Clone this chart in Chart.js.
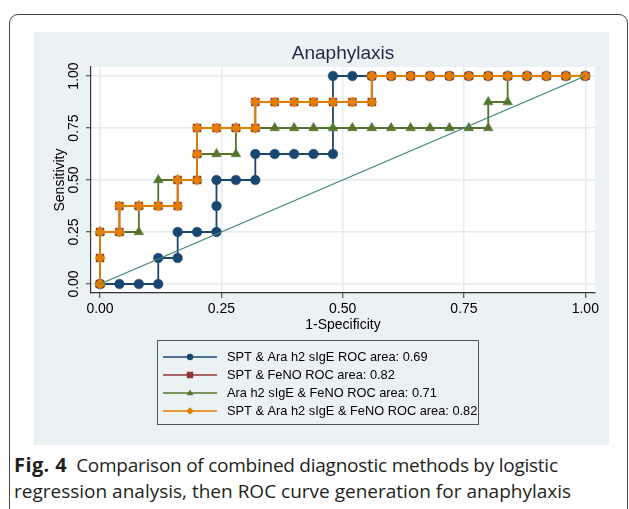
<!DOCTYPE html>
<html>
<head>
<meta charset="utf-8">
<script src="https://cdn.jsdelivr.net/npm/chart.js@4/dist/chart.umd.min.js"></script>
<style>
  html, body { margin: 0; padding: 0; background: #fff; }
  body { width: 629px; height: 509px; position: relative; overflow: hidden; }
  #frame { position: absolute; left: 9px; top: 14px; width: 619px; height: 520px;
           border: 1px solid #444; border-radius: 9px; box-sizing: border-box; }
  #panel { position: absolute; left: 34px; top: 32px; width: 575px; height: 413px; background: #eaf2f3; }
  #caption { position: absolute; left: 14px; top: 452px; width: 612px; white-space: nowrap;
             font-family: "Open Sans", sans-serif; font-size: 19px; line-height: 26px; color: #231f20; }
  #caption b { font-weight: 700; font-size: 20px; letter-spacing: 0.4px; margin-right: 9px; }
  #l1 { letter-spacing: -0.25px; }
</style>
</head>
<body>
<div id="frame"></div>
<div id="panel"><canvas id="graph"></canvas></div>
<div id="caption"><b>Fig. 4</b><span id="l1">Comparison of combined diagnostic methods by logistic</span><br>regression analysis, then ROC curve generation for anaphylaxis</div>
<script>
// axis ticks
const tickVals = [0, 0.25, 0.5, 0.75, 1];
const tickLabels = ["0.00", "0.25", "0.50", "0.75", "1.00"];

// SPT & Ara h2 sIgE
const spAraX = [0, 0.04, 0.08, 0.12, 0.12, 0.16, 0.16, 0.20, 0.24, 0.24, 0.24, 0.28, 0.32, 0.32, 0.36, 0.40,
                0.44, 0.48, 0.48, 0.52, 0.56, 0.60, 0.64, 0.68, 0.72, 0.76, 0.80, 0.84, 0.88, 0.92, 0.96, 1.00];
const spAraY = [0, 0, 0, 0, 0.125, 0.125, 0.25, 0.25, 0.25, 0.375, 0.5, 0.5, 0.5, 0.625, 0.625, 0.625,
                0.625, 0.625, 1, 1, 1, 1, 1, 1, 1, 1, 1, 1, 1, 1, 1, 1];

// SPT & FeNO
const spFenoX = [0, 0, 0, 0.04, 0.04, 0.08, 0.12, 0.16, 0.16, 0.20, 0.20, 0.20, 0.24, 0.28, 0.32, 0.32, 0.36,
                 0.40, 0.44, 0.48, 0.52, 0.56, 0.56, 0.60, 0.64, 0.68, 0.72, 0.76, 0.80, 0.84, 0.88, 0.92, 0.96, 1.00];
const spFenoY = [0, 0.125, 0.25, 0.25, 0.375, 0.375, 0.375, 0.375, 0.5, 0.5, 0.625, 0.75, 0.75, 0.75, 0.75, 0.875, 0.875,
                 0.875, 0.875, 0.875, 0.875, 0.875, 1, 1, 1, 1, 1, 1, 1, 1, 1, 1, 1, 1];

// Ara h2 sIgE & FeNO
const araFenoX = [0, 0, 0.04, 0.08, 0.08, 0.12, 0.12, 0.16, 0.20, 0.20, 0.24, 0.28, 0.28, 0.32, 0.36, 0.40, 0.44,
                  0.48, 0.52, 0.56, 0.60, 0.64, 0.68, 0.72, 0.76, 0.80, 0.80, 0.84, 0.84, 0.88, 0.92, 0.96, 1.00];
const araFenoY = [0, 0.25, 0.25, 0.25, 0.375, 0.375, 0.5, 0.5, 0.5, 0.625, 0.625, 0.625, 0.75, 0.75, 0.75, 0.75, 0.75,
                  0.75, 0.75, 0.75, 0.75, 0.75, 0.75, 0.75, 0.75, 0.75, 0.875, 0.875, 1, 1, 1, 1, 1];

// SPT & Ara h2 sIgE & FeNO
const allX = [0, 0, 0, 0.04, 0.04, 0.08, 0.12, 0.16, 0.16, 0.20, 0.20, 0.20, 0.24, 0.28, 0.32, 0.32, 0.36,
              0.40, 0.44, 0.48, 0.52, 0.56, 0.56, 0.60, 0.64, 0.68, 0.72, 0.76, 0.80, 0.84, 0.88, 0.92, 0.96, 1.00];
const allY = [0, 0.125, 0.25, 0.25, 0.375, 0.375, 0.375, 0.375, 0.5, 0.5, 0.625, 0.75, 0.75, 0.75, 0.75, 0.875, 0.875,
              0.875, 0.875, 0.875, 0.875, 0.875, 1, 1, 1, 1, 1, 1, 1, 1, 1, 1, 1, 1];

const refX = [0, 1];
const refY = [0, 1];

const seriesNames = [
    "SPT & Ara h2 sIgE ROC area: 0.69",
    "SPT & FeNO ROC area: 0.82",
    "Ara h2 sIgE & FeNO ROC area: 0.71",
    "SPT & Ara h2 sIgE & FeNO ROC area: 0.82"
];

function pts(xs, ys) {
    let out = [];
    for (let i = 0; i < xs.length; i++) out.push({ x: xs[i], y: ys[i] });
    return out;
}

const couleurs = ["#1a476f", "#90353b", "#55752f", "#e37e00"];
const formes = ["circle", "rect", "triangle", "rectRot"];
const tailles = [4.8, 5.6, 5.6, 5.2];

function serie(i, data) {
    return {
        label: seriesNames[i],
        data: data,
        showLine: true,
        borderColor: couleurs[i],
        backgroundColor: couleurs[i],
        borderWidth: 1.8,
        pointStyle: formes[i],
        pointRadius: tailles[i],
        pointBorderWidth: 0.5,
        pointBorderColor: couleurs[i],
        pointBackgroundColor: couleurs[i],
        order: 4 - i
    };
}

const fondPlot = {
    id: "fondPlot",
    beforeDraw(chart) {
        const a = chart.chartArea;
        const ctx = chart.ctx;
        ctx.save();
        ctx.fillStyle = "#ffffff";
        ctx.fillRect(a.left, a.top, a.right - a.left, a.bottom - a.top);
        ctx.restore();
    }
};

function marqueur(ctx, forme, x, y, r, c) {
    ctx.fillStyle = c;
    ctx.beginPath();
    if (forme === "circle") {
        ctx.arc(x, y, r, 0, Math.PI * 2);
    } else if (forme === "rect") {
        ctx.rect(x - r, y - r, 2 * r, 2 * r);
    } else if (forme === "triangle") {
        ctx.moveTo(x, y - r * 1.1);
        ctx.lineTo(x + r * 1.05, y + r * 0.7);
        ctx.lineTo(x - r * 1.05, y + r * 0.7);
        ctx.closePath();
    } else {
        ctx.moveTo(x, y - r * 1.2);
        ctx.lineTo(x + r * 1.2, y);
        ctx.lineTo(x, y + r * 1.2);
        ctx.lineTo(x - r * 1.2, y);
        ctx.closePath();
    }
    ctx.fill();
}

const legende = {
    id: "legende",
    afterDraw(chart) {
        const ctx = chart.ctx;
        const bx = 123, by = 308, bw = 321, bh = 84;
        ctx.save();
        ctx.strokeStyle = "#555";
        ctx.lineWidth = 1;
        ctx.strokeRect(bx + 0.5, by + 0.5, bw, bh);
        ctx.font = "12.8px 'Liberation Sans', Arial, sans-serif";
        ctx.textBaseline = "middle";
        for (let i = 0; i < seriesNames.length; i++) {
            const y = 325 + i * 18;
            ctx.strokeStyle = couleurs[i];
            ctx.lineWidth = 1.5;
            ctx.beginPath();
            ctx.moveTo(129, y);
            ctx.lineTo(183, y);
            ctx.stroke();
            marqueur(ctx, formes[i], 156, y, 3.2, couleurs[i]);
            ctx.fillStyle = "#000";
            ctx.fillText(seriesNames[i], 193, y + 0.5);
        }
        ctx.restore();
    }
};

const police = { family: "'Liberation Sans', Arial, sans-serif", size: 14 };

const ctx = document.getElementById("graph").getContext("2d");

new Chart(ctx, {
    type: "scatter",
    data: {
        datasets: [
            serie(0, pts(spAraX, spAraY)),
            serie(1, pts(spFenoX, spFenoY)),
            serie(2, pts(araFenoX, araFenoY)),
            serie(3, pts(allX, allY)),
            {
                label: "reference",
                data: pts(refX, refY),
                showLine: true,
                borderColor: "#40847c",
                borderWidth: 1.3,
                pointRadius: 0,
                order: -1
            }
        ]
    },
    options: {
        responsive: true,
        maintainAspectRatio: false,
        animation: false,
        layout: { padding: { left: 0, top: 0, right: 14, bottom: 102 } },
        plugins: {
            legend: { display: false },
            tooltip: { enabled: false },
            title: {
                display: true,
                text: "Anaphylaxis",
                fullSize: false,
                color: "#1f2a46",
                font: { family: police.family, size: 19, weight: "normal" },
                padding: { top: 10, bottom: 2.2 }
            }
        },
        scales: {
            x: {
                type: "linear",
                min: -0.0186,
                max: 1.02,
                afterFit: s => { s.height = 50; },
                afterBuildTicks: s => { s.ticks = tickVals.map(v => ({ value: v })); },
                grid: { color: "#e4ecee", lineWidth: 1.5, tickColor: "#333", tickLength: 5, tickWidth: 1 },
                border: { display: true, color: "#333", width: 1.2 },
                ticks: {
                    autoSkip: false,
                    color: "#000",
                    font: police,
                    padding: 3,
                    maxRotation: 0,
                    callback: v => tickLabels[tickVals.indexOf(v)]
                },
                title: { display: true, text: "1-Specificity", color: "#000", font: police, padding: { top: 0, bottom: 9.6 } }
            },
            y: {
                type: "linear",
                min: -0.0433,
                max: 1.0433,
                afterFit: s => { s.width = 57; },
                afterBuildTicks: s => { s.ticks = tickVals.map(v => ({ value: v })); },
                grid: { color: "#e4ecee", lineWidth: 1.5, tickColor: "#333", tickLength: 5, tickWidth: 1 },
                border: { display: true, color: "#333", width: 1.2 },
                ticks: {
                    autoSkip: false,
                    color: "#000",
                    font: police,
                    padding: 5,
                    minRotation: 90,
                    maxRotation: 90,
                    crossAlign: "center",
                    align: "start",
                    callback: v => tickLabels[tickVals.indexOf(v)]
                },
                title: { display: true, text: "Sensitivity", color: "#000", font: police, padding: { top: 17.6, bottom: 0 } }
            }
        }
    },
    plugins: [fondPlot, legende]
});
</script>
</body>
</html>
